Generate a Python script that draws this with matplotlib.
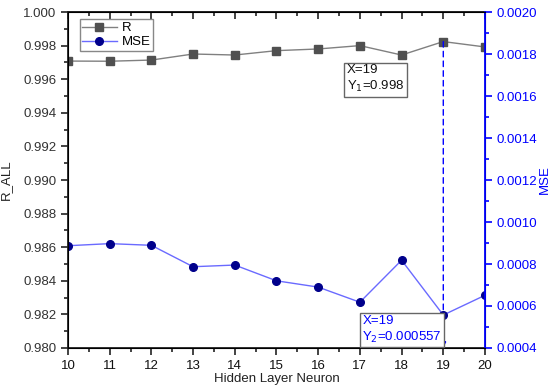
import matplotlib.pyplot as plt
from matplotlib.ticker import MultipleLocator

plt.rcParams["font.family"] = ["Liberation Sans", "DejaVu Sans"]

# data
neurons = [10, 11, 12, 13, 14, 15, 16, 17, 18, 19, 20]
r_all = [0.99708, 0.99707, 0.99714, 0.99750, 0.99744, 0.99770, 0.99780,
         0.99800, 0.99744, 0.99824, 0.99792]
mse = [0.000887, 0.000897, 0.000889, 0.000787, 0.000795, 0.000720,
       0.000690, 0.000618, 0.000818, 0.000557, 0.000651]

grey = "#505050"
blue = "#0000ff"
navy = "#00008b"
fs = 9.5

fig = plt.figure(figsize=(5.5, 3.9), dpi=100)
ax = fig.add_axes([0.1236, 0.1077, 0.7582, 0.8615])
ax2 = ax.twinx()

l1, = ax.plot(neurons, r_all, color="#808080", lw=1, marker="s", ms=5.5,
              mfc=grey, mec=grey, label="R")
l2, = ax2.plot(neurons, mse, color="#6a6aff", lw=1, marker="o", ms=5.5,
               mfc=navy, mec=navy, label="MSE")

ax.set_xlim(10, 20)
ax.set_ylim(0.980, 1.000)
ax2.set_ylim(0.0004, 0.0020)

ax.xaxis.set_major_locator(MultipleLocator(1))
ax.xaxis.set_minor_locator(MultipleLocator(0.5))
ax.yaxis.set_major_locator(MultipleLocator(0.002))
ax.yaxis.set_minor_locator(MultipleLocator(0.001))
ax2.yaxis.set_major_locator(MultipleLocator(0.0002))
ax2.yaxis.set_minor_locator(MultipleLocator(0.0001))
ax.yaxis.set_major_formatter(plt.FuncFormatter(lambda v, p: f"{v:.3f}"))
ax2.yaxis.set_major_formatter(plt.FuncFormatter(lambda v, p: f"{v:.4f}"))

ax.tick_params(axis="both", which="major", direction="out", length=5,
               width=1.2, labelsize=fs, colors="#222222", labelcolor="#333333")
ax.tick_params(axis="both", which="minor", direction="out", length=3,
               width=1.2, colors="#222222")
ax.tick_params(axis="x", which="major", labelcolor="#111111")

# top axis: ticks pointing inward, no labels
top = ax.secondary_xaxis("top")
top.xaxis.set_major_locator(MultipleLocator(1))
top.xaxis.set_minor_locator(MultipleLocator(0.5))
top.tick_params(which="major", direction="in", length=5, width=1.2,
                labeltop=False, colors="#222222")
top.tick_params(which="minor", direction="in", length=3, width=1.2,
                colors="#222222")
top.spines["top"].set_linewidth(1.3)
top.spines["top"].set_color("#222222")

ax2.tick_params(axis="y", which="major", direction="out", length=5,
                width=1.2, colors=blue, labelsize=fs)
ax2.tick_params(axis="y", which="minor", direction="out", length=3,
                width=1.2, colors=blue)
ax2.spines["right"].set_color(blue)
ax2.spines["right"].set_linewidth(1.3)

for s in ["left", "bottom", "top"]:
    ax.spines[s].set_color("#222222")
    ax.spines[s].set_linewidth(1.3)

ax.set_xlabel("Hidden Layer Neuron", fontsize=fs, color="#222222", labelpad=1)
ax.set_ylabel("R_ALL", fontsize=fs, color="#222222")
ax2.set_ylabel("MSE", fontsize=fs, color=blue, rotation=90)
ax.yaxis.set_label_coords(-0.135, 0.5)
ax2.yaxis.set_label_coords(1.13, 0.5)

# dashed marker line at x=19
ax.annotate("", xy=(19, 0.980), xytext=(19, r_all[9]),
            arrowprops=dict(arrowstyle="-|>", color=blue, ls=(0, (4, 3)),
                            lw=1, mutation_scale=8, shrinkA=0, shrinkB=0))

ax.text(16.68, 0.99688, "X=19\nY$_1$=0.998", fontsize=fs, color="#111111",
        va="top", ha="left", linespacing=1.25,
        bbox=dict(boxstyle="square,pad=0.2", fc="white", ec="#666666", lw=1))
ax2.text(17.06, 0.000558, "X=19\nY$_2$=0.000557", fontsize=fs, color=blue,
         va="top", ha="left", linespacing=1.25,
         bbox=dict(boxstyle="square,pad=0.2", fc="white", ec="#666666", lw=1))

ax.legend([l1, l2], ["R", "MSE"], loc="upper left", fontsize=fs,
          frameon=True, fancybox=False, edgecolor="#888888", framealpha=1,
          borderpad=0.2, handlelength=2.6, handletextpad=0.4,
          labelspacing=0.15, bbox_to_anchor=(0.012, 0.998))

fig.savefig("out.png", dpi=100)
